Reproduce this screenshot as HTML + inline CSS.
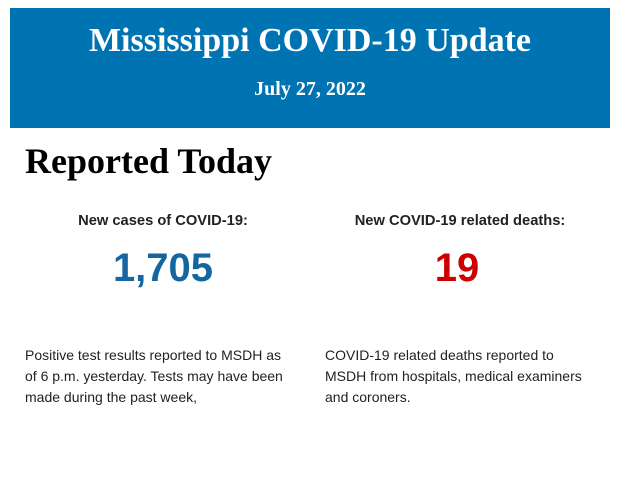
<!DOCTYPE html>
<html><head><style>
body{margin:0;width:620px;height:483px;background:#fff;position:relative;overflow:hidden;font-family:"Liberation Sans",sans-serif}
.hdr{position:absolute;left:10px;top:8px;width:600px;height:120px;background:#0074b3;color:#fff;text-align:center;font-family:"Liberation Serif",serif;font-weight:bold}
.t{position:absolute;top:14px;left:0;width:100%;font-size:34px}
.d{position:absolute;top:70px;left:0;width:100%;font-size:20px}
.rt{position:absolute;left:25px;top:140px;font-family:"Liberation Serif",serif;font-weight:bold;font-size:36px;color:#000}
.lab{position:absolute;top:213px;font-size:14.7px;font-weight:bold;color:#222;text-align:center;width:300px}
.num{position:absolute;top:246px;font-size:40px;font-weight:bold;text-align:center;width:300px}
.p{position:absolute;top:345px;font-size:14px;line-height:21px;color:#222;width:266px}
</style></head><body>
<div class="hdr"><div class="t">Mississippi COVID-19 Update</div><div class="d">July 27, 2022</div></div>
<div class="rt">Reported Today</div>
<div class="lab" style="left:13px">New cases of COVID-19:</div>
<div class="lab" style="left:310px">New COVID-19 related deaths:</div>
<div class="num" style="left:13px;color:#1565a0">1,705</div>
<div class="num" style="left:307px;color:#cc0000">19</div>
<div class="p" style="left:25px">Positive test results reported to MSDH as of 6 p.m. yesterday. Tests may have been made during the past week,</div>
<div class="p" style="left:325px">COVID-19 related deaths reported to MSDH from hospitals, medical examiners and coroners.</div>
</body></html>
